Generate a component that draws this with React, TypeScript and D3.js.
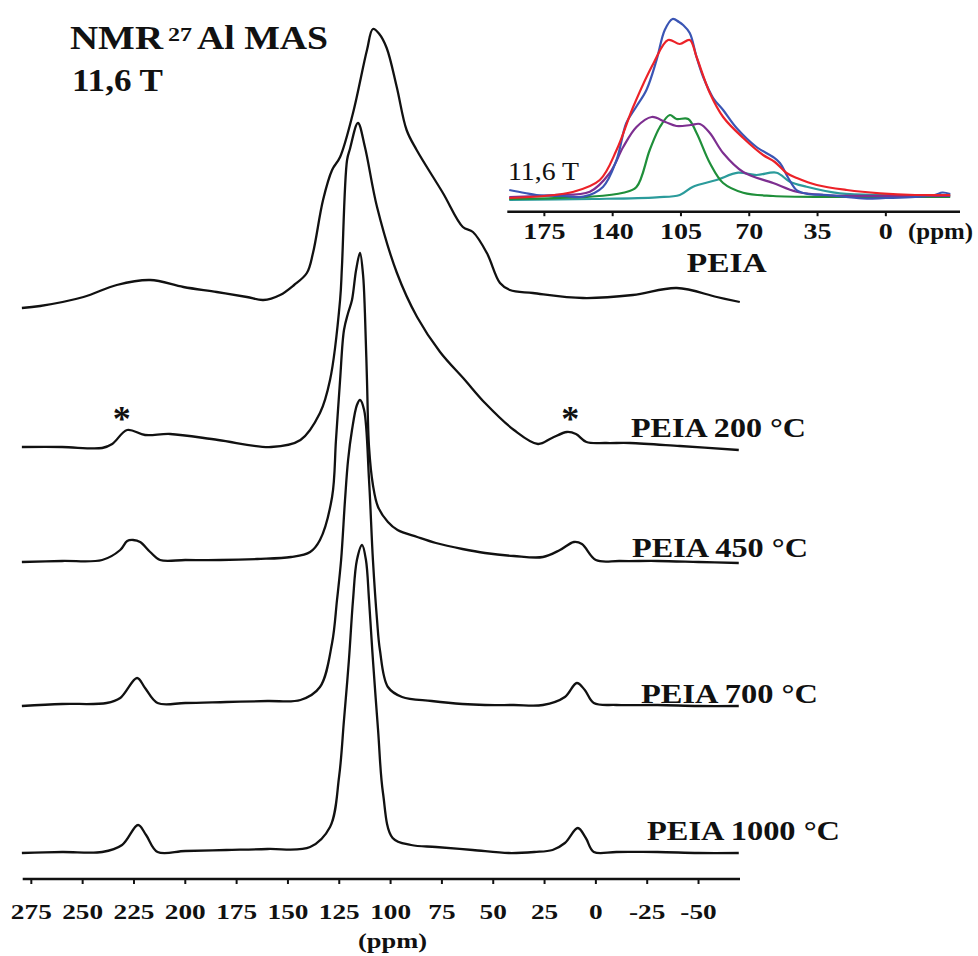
import React from "react";
import * as d3 from "d3";

type Pt = [number, number]; // [chemical shift (ppm), intensity (a.u.)]

// ---------------- main stacked spectra ----------------
const mainTicks = [275, 250, 225, 200, 175, 150, 125, 100, 75, 50, 25, 0, -25, -50];
const mainTickLabels = ["275", "250", "225", "200", "175", "150", "125", "100", "75", "50", "25", "0", "-25", "-50"];

// vertical stacking offsets (a.u.), top spectrum first
const stackOffsets = [579, 432, 318, 174, 27];
const spectrumLabels = ["", "PEIA 200 °C", "PEIA 450 °C", "PEIA 700 °C", "PEIA 1000 °C"];

const peiaRaw: Pt[] = [
  [279.6, -8], [270.7, -6], [249.6, 3], [233.4, 15], [217.1, 20], [200.9, 13], [184.7, 8],
  [170, 3], [162, 0], [153.8, 5], [147, 15], [140.8, 27], [137.8, 47], [132.9, 100], [128.5, 130],
  [124.6, 143], [118.3, 187], [111.5, 250], [108.6, 271], [105.5, 266], [101.9, 252], [97, 213],
  [92.2, 170], [87.3, 150], [74.5, 107], [64.8, 73], [59.9, 68], [53.1, 47], [46.7, 17],
  [41.9, 10], [30.7, 7], [6.3, 2], [-18, 5], [-39.4, 12], [-58.9, 3], [-70.1, -2],
];

const peia200: Pt[] = [
  [279.6, 0], [260, 0], [240.5, -1], [235.6, 3], [228.3, 17], [219.6, 12], [207.4, 13], [184, 7],
  [158.2, 0], [143.9, 7], [134.4, 34], [129.5, 67], [124.6, 147], [123.7, 180], [121.2, 287],
  [119.8, 298], [115.9, 324], [112.5, 300], [106.6, 240], [96.9, 174], [87.1, 130], [75.9, 95],
  [63.8, 67], [54, 44], [39.9, 17], [28.2, 3], [21.4, 9], [14.1, 15], [9.7, 13], [4.6, 5],
  [-5, 4], [-16.6, 4], [-40.9, 1], [-69.6, -3],
];

const peia450: Pt[] = [
  [279.6, -1], [260, 0], [240.5, 1], [231.7, 11], [228.3, 20], [225.4, 21], [222, 19], [217.1, 9],
  [212.3, 1], [200, 1], [183, 1], [165, 2], [148.5, 4], [139.2, 9], [134.4, 21], [128.5, 64],
  [126.6, 121], [124.6, 181], [122.7, 231], [120.7, 248], [118.8, 261], [116.8, 291], [114.9, 308],
  [113.4, 286], [112.5, 248], [111.5, 181], [110.5, 114], [108.6, 76], [106.1, 54],
  [101.3, 39], [96.6, 31], [87, 24], [77.9, 18], [65, 12], [54, 8], [40, 5], [25.8, 4],
  [17.5, 11], [10.7, 19], [6.8, 17], [0, 1], [-11.7, 0], [-30, 0], [-50, -1], [-69.6, -2],
];

const peia700: Pt[] = [
  [279.6, -1], [260, 1], [238.3, 2], [231.7, 7], [223.5, 27], [219.6, 17], [213.5, 2],
  [200, 2], [180, 3], [160, 4], [143.9, 5], [134.4, 18], [128.5, 62], [126.1, 105],
  [124.1, 145], [122.2, 205], [120.7, 245], [118.8, 275], [116.4, 300], [114.9, 305],
  [112.9, 295], [110.5, 225], [108.6, 145], [106.6, 85], [105.2, 55], [101.3, 18], [94.4, 8],
  [80, 4], [65, 1], [54, 0], [40, 0], [25.8, 0], [15.1, 8], [9.3, 22], [5.4, 15], [1, 2],
  [-10, 0], [-30, 0], [-50, -1], [-69.6, -1],
];

const peia1000: Pt[] = [
  [279.6, -1], [260, 0], [240.5, 0], [230.8, 7], [223, 27], [219.1, 17], [213.5, 0],
  [200, 1], [180, 2], [160, 3], [139.2, 5], [129.5, 25], [125.1, 75], [122.7, 132],
  [120.3, 192], [118.3, 252], [116.4, 292], [113.9, 307], [112, 292], [110.5, 252],
  [108.6, 192], [106.1, 122], [103.7, 59], [99, 14], [90, 7], [77.9, 5], [60, 2], [42.4, -1],
  [30, 0], [21.1, 2], [15.1, 9], [8.8, 24], [4.9, 14], [1, 0], [-10, 0], [-30, 0], [-50, -1],
  [-69.6, -1],
];

const mainSpectra = [peiaRaw, peia200, peia450, peia700, peia1000];

// ---------------- inset (PEIA decomposition) ----------------
const insetTicks = [175, 140, 105, 70, 35, 0];

const insetExperimental: Pt[] = [
  [193, 10], [185, 7], [179, 5], [165, 4], [155, 3.3], [145, 13], [138, 40], [133, 77],
  [128, 93], [122.7, 110], [117.5, 140], [113.3, 170], [109.3, 181], [106, 178], [103.9, 175],
  [100.5, 167], [97, 143], [93.6, 123], [88.5, 102], [83.4, 90], [76.5, 72], [66.3, 53],
  [57.8, 43], [54.3, 37], [50, 22], [45.8, 10], [40, 6], [30, 5], [12, 1.5], [0, 2],
  [-15, 3], [-25, 5], [-29, 7.5], [-33, 6],
];
const insetFitSum: Pt[] = [
  [193, 2], [175, 4], [160, 8.3], [146.6, 20], [138, 50], [129.5, 93], [119, 137],
  [111.6, 160], [105.6, 156], [100.5, 160], [97, 143], [90.2, 107], [83.4, 83], [73.1, 62],
  [62.9, 45], [56.9, 38], [50.9, 27], [45.6, 22], [35.4, 15], [20, 10], [3, 6.7], [-15, 5],
  [-33, 5],
];
const insetSiteA: Pt[] = [
  [193, 3], [170, 5], [151.7, 8.3], [141.5, 27], [134.6, 53], [127.8, 73], [120, 83],
  [113, 78], [107.3, 74], [100, 75], [95.3, 76], [90.2, 67], [83.4, 47], [73.1, 28],
  [57.8, 17], [45.8, 8.3], [32, 5], [0, 4], [-33, 4],
];
const insetSiteB: Pt[] = [
  [193, 1], [151.7, 3.3], [134.6, 7.3], [127.8, 13], [121, 50], [115.8, 73], [110.7, 85],
  [107.3, 81], [101.3, 81], [97, 67], [90.2, 37], [83.4, 17], [73.1, 7.3], [57.8, 4],
  [30, 3], [0, 3], [-33, 3],
];
const insetSiteC: Pt[] = [
  [193, 0], [150, 1], [117.5, 2.7], [105.6, 5], [98.8, 13.3], [86.8, 20], [75.7, 27.3],
  [66.3, 25], [56, 27.3], [49.2, 18.3], [40.6, 13.3], [23.6, 6.7], [0, 5], [-33, 5],
];
const insetSeries = [insetSiteC, insetSiteB, insetSiteA, insetExperimental, insetFitSum];
const insetColors = ["#2b9b9b", "#1f8f3a", "#7d2f90", "#3a55b4", "#ec2228"];

// ---------------- layout ----------------
const W = 978;
const H = 956;
const FONT = "'Liberation Serif', 'Times New Roman', Times, serif";
const labelLayout = [
  null,
  { x: 631, y: 437, w: 175 },
  { x: 632, y: 557, w: 176 },
  { x: 641, y: 703, w: 177 },
  { x: 647, y: 840, w: 193 },
];

export default function App() {
  const x = d3.scaleLinear().domain([279.2, -70.2]).range([22.7, 740]);
  const y = d3.scaleLinear().domain([0, 850]).range([879, 29]);

  const ix = d3.scaleLinear().domain([194, -38]).range([507.3, 960]);
  const iy = d3.scaleLinear().domain([0, 200]).range([200, 0]);

  const mainLine = (off: number) =>
    d3
      .line<Pt>()
      .x((d) => x(d[0]))
      .y((d) => y(d[1] + off))
      .curve(d3.curveCatmullRom.alpha(0.5));

  const insetLine = d3
    .line<Pt>()
    .x((d) => ix(d[0]))
    .y((d) => iy(d[1]))
    .curve(d3.curveCatmullRom.alpha(0.5));

  const axisY = y(0);
  const insetAxisY = 211.7;

  return (
    <svg
      width={W}
      height={H}
      viewBox={`0 0 ${W} ${H}`}
      style={{ position: "absolute", left: 0, top: 0, background: "#fff", fontFamily: FONT }}
    >
      <rect width={W} height={H} fill="#fff" />

      {/* title */}
      <g fontWeight="bold" fill="#111" style={{ fontFamily: FONT }}>
        <text x={70} y={49} fontSize={33} textLength={93} lengthAdjust="spacingAndGlyphs">NMR</text>
        <text x={168} y={41} fontSize={18} textLength={24} lengthAdjust="spacingAndGlyphs">27</text>
        <text x={197} y={49} fontSize={33} textLength={131} lengthAdjust="spacingAndGlyphs">Al MAS</text>
        <text x={72} y={91} fontSize={31} textLength={91} lengthAdjust="spacingAndGlyphs">11,6 T</text>
      </g>

      {/* main spectra */}
      {mainSpectra.map((s, i) => (
        <path
          key={i}
          d={mainLine(stackOffsets[i])(s) || ""}
          fill="none"
          stroke="#111"
          strokeWidth={2.3}
          strokeLinejoin="round"
        />
      ))}

      {/* spinning sideband markers */}
      <g fontWeight="bold" fontSize={36} fill="#111" textAnchor="middle" style={{ fontFamily: FONT }}>
        <text x={x(231)} y={431}>*</text>
        <text x={x(12.5)} y={431}>*</text>
      </g>

      {/* spectrum labels */}
      <g fontWeight="bold" fontSize={28} fill="#111" style={{ fontFamily: FONT }}>
        {spectrumLabels.map((t, i) => {
          const l = labelLayout[i];
          if (!l || !t) return null;
          return (
            <text key={i} x={l.x} y={l.y} textLength={l.w} lengthAdjust="spacingAndGlyphs">
              {t}
            </text>
          );
        })}
      </g>

      {/* main x axis */}
      <line x1={x.range()[0]} x2={x.range()[1]} y1={axisY} y2={axisY} stroke="#111" strokeWidth={2.6} />
      <g style={{ fontFamily: FONT }}>
        {mainTicks.map((t, i) => (
          <g key={t} transform={`translate(${x(t)},${axisY})`}>
            <line y1={0} y2={5} stroke="#111" strokeWidth={2} />
            <text
              y={40}
              textAnchor="middle"
              fontSize={21}
              fontWeight="bold"
              fill="#111"
              transform="scale(1.3,1)"
            >
              {mainTickLabels[i]}
            </text>
          </g>
        ))}
        <text
          x={392.5}
          y={948}
          textAnchor="middle"
          fontSize={21}
          fontWeight="bold"
          fill="#111"
          textLength={69}
          lengthAdjust="spacingAndGlyphs"
        >
          (ppm)
        </text>
      </g>

      {/* inset */}
      <g style={{ fontFamily: FONT }}>
        {insetSeries.map((s, i) => (
          <path
            key={i}
            d={insetLine(s) || ""}
            fill="none"
            stroke={insetColors[i]}
            strokeWidth={2.2}
            strokeLinejoin="round"
          />
        ))}
        <line x1={ix.range()[0]} x2={ix.range()[1]} y1={insetAxisY} y2={insetAxisY} stroke="#111" strokeWidth={2.6} />
        {insetTicks.map((t) => (
          <g key={t} transform={`translate(${ix(t)},${insetAxisY})`}>
            <line y1={0} y2={4.5} stroke="#111" strokeWidth={2} />
            <text
              y={27.6}
              textAnchor="middle"
              fontSize={24}
              fontWeight="bold"
              fill="#111"
              transform="scale(1.17,1)"
            >
              {String(t)}
            </text>
          </g>
        ))}
        <text x={908} y={239.3} fontSize={24} fontWeight="bold" fill="#111" textLength={65} lengthAdjust="spacingAndGlyphs">
          (ppm)
        </text>
        <text x={686.7} y={271.7} fontSize={28} fontWeight="bold" fill="#111" textLength={80} lengthAdjust="spacingAndGlyphs">
          PEIA
        </text>
        <text x={508} y={180} fontSize={26} fill="#111" textLength={71} lengthAdjust="spacingAndGlyphs">
          11,6 T
        </text>
      </g>
    </svg>
  );
}
